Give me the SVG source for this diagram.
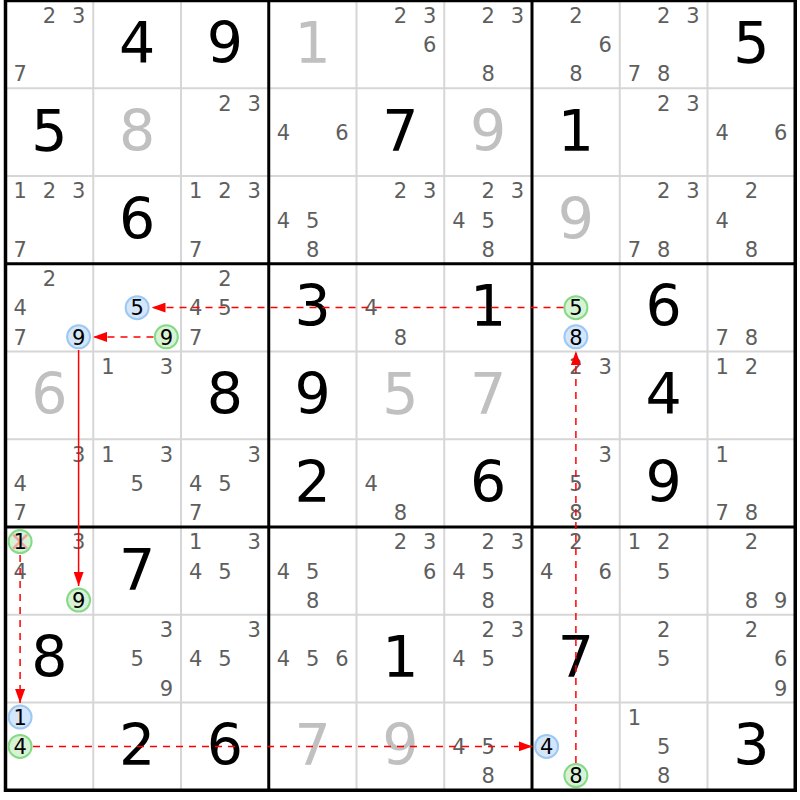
<svg xmlns="http://www.w3.org/2000/svg" width="800" height="800" viewBox="0 0 800 800">
<style>
text{font-family:"DejaVu Sans",Verdana,sans-serif;text-anchor:middle}
.c{font-size:21px;fill:#5e5e5e}
.k{font-size:21px;fill:#000}
.g{font-size:57px;fill:#000}
.s{font-size:57px;fill:#c0c0c0}
.cb{fill:#d3e6fa;stroke:#9cc8f2;stroke-width:2}
.cg{fill:#d6f3d6;stroke:#86d986;stroke-width:2}
.thin{stroke:#d6d6d6;stroke-width:2}
.thick{stroke:#000;stroke-width:3}
.lnk{stroke:#ff0000;stroke-width:1.5;fill:none}
.dash{stroke-dasharray:7 6}
</style>
<defs>
<marker id="ah" markerUnits="userSpaceOnUse" markerWidth="14" markerHeight="10" refX="14" refY="5" orient="auto"><path d="M0,0 L14,5 L0,10 z" fill="#ff0000"/></marker>
</defs>
<rect width="800" height="800" fill="#fff"/>
<g id="grid">
<path class="thin" d="M93.25,0.5V790.25M181,0.5V790.25M356.5,0.5V790.25M444.25,0.5V790.25M619.75,0.5V790.25M707.5,0.5V790.25M5.5,88.25H795.25M5.5,176H795.25M5.5,351.5H795.25M5.5,439.25H795.25M5.5,614.75H795.25M5.5,702.5H795.25"/>
<path class="thick" d="M268.75,0.5V790.25M532,0.5V790.25M5.5,263.75H795.25M5.5,527H795.25"/>
<rect x="5.5" y="0.5" width="789.75" height="789.75" fill="none" stroke="#000" stroke-width="3.5"/>
</g>
<g id="r0c0" transform="translate(5.5,0.5)"><text class="c" x="43.9" y="22.3">2</text><text class="c" x="73.1" y="22.3">3</text><text class="c" x="14.6" y="80.8">7</text></g>
<g id="r0c1" transform="translate(93.25,0.5)"><text class="g" x="43.9" y="62.7">4</text></g>
<g id="r0c2" transform="translate(181,0.5)"><text class="g" x="43.9" y="62.7">9</text></g>
<g id="r0c3" transform="translate(268.75,0.5)"><text class="s" x="43.9" y="62.7">1</text></g>
<g id="r0c4" transform="translate(356.5,0.5)"><text class="c" x="43.9" y="22.3">2</text><text class="c" x="73.1" y="22.3">3</text><text class="c" x="73.1" y="51.5">6</text></g>
<g id="r0c5" transform="translate(444.25,0.5)"><text class="c" x="43.9" y="22.3">2</text><text class="c" x="73.1" y="22.3">3</text><text class="c" x="43.9" y="80.8">8</text></g>
<g id="r0c6" transform="translate(532,0.5)"><text class="c" x="43.9" y="22.3">2</text><text class="c" x="73.1" y="51.5">6</text><text class="c" x="43.9" y="80.8">8</text></g>
<g id="r0c7" transform="translate(619.75,0.5)"><text class="c" x="43.9" y="22.3">2</text><text class="c" x="73.1" y="22.3">3</text><text class="c" x="14.6" y="80.8">7</text><text class="c" x="43.9" y="80.8">8</text></g>
<g id="r0c8" transform="translate(707.5,0.5)"><text class="g" x="43.9" y="62.7">5</text></g>

<g id="r1c0" transform="translate(5.5,88.25)"><text class="g" x="43.9" y="62.7">5</text></g>
<g id="r1c1" transform="translate(93.25,88.25)"><text class="s" x="43.9" y="62.7">8</text></g>
<g id="r1c2" transform="translate(181,88.25)"><text class="c" x="43.9" y="22.3">2</text><text class="c" x="73.1" y="22.3">3</text></g>
<g id="r1c3" transform="translate(268.75,88.25)"><text class="c" x="14.6" y="51.5">4</text><text class="c" x="73.1" y="51.5">6</text></g>
<g id="r1c4" transform="translate(356.5,88.25)"><text class="g" x="43.9" y="62.7">7</text></g>
<g id="r1c5" transform="translate(444.25,88.25)"><text class="s" x="43.9" y="62.7">9</text></g>
<g id="r1c6" transform="translate(532,88.25)"><text class="g" x="43.9" y="62.7">1</text></g>
<g id="r1c7" transform="translate(619.75,88.25)"><text class="c" x="43.9" y="22.3">2</text><text class="c" x="73.1" y="22.3">3</text></g>
<g id="r1c8" transform="translate(707.5,88.25)"><text class="c" x="14.6" y="51.5">4</text><text class="c" x="73.1" y="51.5">6</text></g>

<g id="r2c0" transform="translate(5.5,176)"><text class="c" x="14.6" y="22.3">1</text><text class="c" x="43.9" y="22.3">2</text><text class="c" x="73.1" y="22.3">3</text><text class="c" x="14.6" y="80.8">7</text></g>
<g id="r2c1" transform="translate(93.25,176)"><text class="g" x="43.9" y="62.7">6</text></g>
<g id="r2c2" transform="translate(181,176)"><text class="c" x="14.6" y="22.3">1</text><text class="c" x="43.9" y="22.3">2</text><text class="c" x="73.1" y="22.3">3</text><text class="c" x="14.6" y="80.8">7</text></g>
<g id="r2c3" transform="translate(268.75,176)"><text class="c" x="14.6" y="51.5">4</text><text class="c" x="43.9" y="51.5">5</text><text class="c" x="43.9" y="80.8">8</text></g>
<g id="r2c4" transform="translate(356.5,176)"><text class="c" x="43.9" y="22.3">2</text><text class="c" x="73.1" y="22.3">3</text></g>
<g id="r2c5" transform="translate(444.25,176)"><text class="c" x="43.9" y="22.3">2</text><text class="c" x="73.1" y="22.3">3</text><text class="c" x="14.6" y="51.5">4</text><text class="c" x="43.9" y="51.5">5</text><text class="c" x="43.9" y="80.8">8</text></g>
<g id="r2c6" transform="translate(532,176)"><text class="s" x="43.9" y="62.7">9</text></g>
<g id="r2c7" transform="translate(619.75,176)"><text class="c" x="43.9" y="22.3">2</text><text class="c" x="73.1" y="22.3">3</text><text class="c" x="14.6" y="80.8">7</text><text class="c" x="43.9" y="80.8">8</text></g>
<g id="r2c8" transform="translate(707.5,176)"><text class="c" x="43.9" y="22.3">2</text><text class="c" x="14.6" y="51.5">4</text><text class="c" x="43.9" y="80.8">8</text></g>

<g id="r3c0" transform="translate(5.5,263.75)"><text class="c" x="43.9" y="22.3">2</text><text class="c" x="14.6" y="51.5">4</text><text class="c" x="14.6" y="80.8">7</text><circle class="cb" cx="73.1" cy="73.1" r="11.5"/><text class="k" x="73.1" y="80.8">9</text></g>
<g id="r3c1" transform="translate(93.25,263.75)"><circle class="cb" cx="43.9" cy="43.9" r="11.5"/><text class="k" x="43.9" y="51.5">5</text><circle class="cg" cx="73.1" cy="73.1" r="11.5"/><text class="k" x="73.1" y="80.8">9</text></g>
<g id="r3c2" transform="translate(181,263.75)"><text class="c" x="43.9" y="22.3">2</text><text class="c" x="14.6" y="51.5">4</text><text class="c" x="43.9" y="51.5">5</text><text class="c" x="14.6" y="80.8">7</text></g>
<g id="r3c3" transform="translate(268.75,263.75)"><text class="g" x="43.9" y="62.7">3</text></g>
<g id="r3c4" transform="translate(356.5,263.75)"><text class="c" x="14.6" y="51.5">4</text><text class="c" x="43.9" y="80.8">8</text></g>
<g id="r3c5" transform="translate(444.25,263.75)"><text class="g" x="43.9" y="62.7">1</text></g>
<g id="r3c6" transform="translate(532,263.75)"><circle class="cg" cx="43.9" cy="43.9" r="11.5"/><text class="k" x="43.9" y="51.5">5</text><circle class="cb" cx="43.9" cy="73.1" r="11.5"/><text class="k" x="43.9" y="80.8">8</text></g>
<g id="r3c7" transform="translate(619.75,263.75)"><text class="g" x="43.9" y="62.7">6</text></g>
<g id="r3c8" transform="translate(707.5,263.75)"><text class="c" x="14.6" y="80.8">7</text><text class="c" x="43.9" y="80.8">8</text></g>

<g id="r4c0" transform="translate(5.5,351.5)"><text class="s" x="43.9" y="62.7">6</text></g>
<g id="r4c1" transform="translate(93.25,351.5)"><text class="c" x="14.6" y="22.3">1</text><text class="c" x="73.1" y="22.3">3</text></g>
<g id="r4c2" transform="translate(181,351.5)"><text class="g" x="43.9" y="62.7">8</text></g>
<g id="r4c3" transform="translate(268.75,351.5)"><text class="g" x="43.9" y="62.7">9</text></g>
<g id="r4c4" transform="translate(356.5,351.5)"><text class="s" x="43.9" y="62.7">5</text></g>
<g id="r4c5" transform="translate(444.25,351.5)"><text class="s" x="43.9" y="62.7">7</text></g>
<g id="r4c6" transform="translate(532,351.5)"><text class="c" x="43.9" y="22.3">2</text><text class="c" x="73.1" y="22.3">3</text></g>
<g id="r4c7" transform="translate(619.75,351.5)"><text class="g" x="43.9" y="62.7">4</text></g>
<g id="r4c8" transform="translate(707.5,351.5)"><text class="c" x="14.6" y="22.3">1</text><text class="c" x="43.9" y="22.3">2</text></g>

<g id="r5c0" transform="translate(5.5,439.25)"><text class="c" x="73.1" y="22.3">3</text><text class="c" x="14.6" y="51.5">4</text><text class="c" x="14.6" y="80.8">7</text></g>
<g id="r5c1" transform="translate(93.25,439.25)"><text class="c" x="14.6" y="22.3">1</text><text class="c" x="73.1" y="22.3">3</text><text class="c" x="43.9" y="51.5">5</text></g>
<g id="r5c2" transform="translate(181,439.25)"><text class="c" x="73.1" y="22.3">3</text><text class="c" x="14.6" y="51.5">4</text><text class="c" x="43.9" y="51.5">5</text><text class="c" x="14.6" y="80.8">7</text></g>
<g id="r5c3" transform="translate(268.75,439.25)"><text class="g" x="43.9" y="62.7">2</text></g>
<g id="r5c4" transform="translate(356.5,439.25)"><text class="c" x="14.6" y="51.5">4</text><text class="c" x="43.9" y="80.8">8</text></g>
<g id="r5c5" transform="translate(444.25,439.25)"><text class="g" x="43.9" y="62.7">6</text></g>
<g id="r5c6" transform="translate(532,439.25)"><text class="c" x="73.1" y="22.3">3</text><text class="c" x="43.9" y="51.5">5</text><text class="c" x="43.9" y="80.8">8</text></g>
<g id="r5c7" transform="translate(619.75,439.25)"><text class="g" x="43.9" y="62.7">9</text></g>
<g id="r5c8" transform="translate(707.5,439.25)"><text class="c" x="14.6" y="22.3">1</text><text class="c" x="14.6" y="80.8">7</text><text class="c" x="43.9" y="80.8">8</text></g>

<g id="r6c0" transform="translate(5.5,527)"><circle class="cg" cx="14.6" cy="14.6" r="11.5"/><path d="M7.6,7.6L21.6,21.6M21.6,7.6L7.6,21.6" stroke="#f2a3a3" stroke-width="2.5"/><text class="k" x="14.6" y="22.3">1</text><text class="c" x="73.1" y="22.3">3</text><text class="c" x="14.6" y="51.5">4</text><circle class="cg" cx="73.1" cy="73.1" r="11.5"/><text class="k" x="73.1" y="80.8">9</text></g>
<g id="r6c1" transform="translate(93.25,527)"><text class="g" x="43.9" y="62.7">7</text></g>
<g id="r6c2" transform="translate(181,527)"><text class="c" x="14.6" y="22.3">1</text><text class="c" x="73.1" y="22.3">3</text><text class="c" x="14.6" y="51.5">4</text><text class="c" x="43.9" y="51.5">5</text></g>
<g id="r6c3" transform="translate(268.75,527)"><text class="c" x="14.6" y="51.5">4</text><text class="c" x="43.9" y="51.5">5</text><text class="c" x="43.9" y="80.8">8</text></g>
<g id="r6c4" transform="translate(356.5,527)"><text class="c" x="43.9" y="22.3">2</text><text class="c" x="73.1" y="22.3">3</text><text class="c" x="73.1" y="51.5">6</text></g>
<g id="r6c5" transform="translate(444.25,527)"><text class="c" x="43.9" y="22.3">2</text><text class="c" x="73.1" y="22.3">3</text><text class="c" x="14.6" y="51.5">4</text><text class="c" x="43.9" y="51.5">5</text><text class="c" x="43.9" y="80.8">8</text></g>
<g id="r6c6" transform="translate(532,527)"><text class="c" x="43.9" y="22.3">2</text><text class="c" x="14.6" y="51.5">4</text><text class="c" x="73.1" y="51.5">6</text></g>
<g id="r6c7" transform="translate(619.75,527)"><text class="c" x="14.6" y="22.3">1</text><text class="c" x="43.9" y="22.3">2</text><text class="c" x="43.9" y="51.5">5</text></g>
<g id="r6c8" transform="translate(707.5,527)"><text class="c" x="43.9" y="22.3">2</text><text class="c" x="43.9" y="80.8">8</text><text class="c" x="73.1" y="80.8">9</text></g>

<g id="r7c0" transform="translate(5.5,614.75)"><text class="g" x="43.9" y="62.7">8</text></g>
<g id="r7c1" transform="translate(93.25,614.75)"><text class="c" x="73.1" y="22.3">3</text><text class="c" x="43.9" y="51.5">5</text><text class="c" x="73.1" y="80.8">9</text></g>
<g id="r7c2" transform="translate(181,614.75)"><text class="c" x="73.1" y="22.3">3</text><text class="c" x="14.6" y="51.5">4</text><text class="c" x="43.9" y="51.5">5</text></g>
<g id="r7c3" transform="translate(268.75,614.75)"><text class="c" x="14.6" y="51.5">4</text><text class="c" x="43.9" y="51.5">5</text><text class="c" x="73.1" y="51.5">6</text></g>
<g id="r7c4" transform="translate(356.5,614.75)"><text class="g" x="43.9" y="62.7">1</text></g>
<g id="r7c5" transform="translate(444.25,614.75)"><text class="c" x="43.9" y="22.3">2</text><text class="c" x="73.1" y="22.3">3</text><text class="c" x="14.6" y="51.5">4</text><text class="c" x="43.9" y="51.5">5</text></g>
<g id="r7c6" transform="translate(532,614.75)"><text class="g" x="43.9" y="62.7">7</text></g>
<g id="r7c7" transform="translate(619.75,614.75)"><text class="c" x="43.9" y="22.3">2</text><text class="c" x="43.9" y="51.5">5</text></g>
<g id="r7c8" transform="translate(707.5,614.75)"><text class="c" x="43.9" y="22.3">2</text><text class="c" x="73.1" y="51.5">6</text><text class="c" x="73.1" y="80.8">9</text></g>

<g id="r8c0" transform="translate(5.5,702.5)"><circle class="cb" cx="14.6" cy="14.6" r="11.5"/><text class="k" x="14.6" y="22.3">1</text><circle class="cg" cx="14.6" cy="43.9" r="11.5"/><text class="k" x="14.6" y="51.5">4</text></g>
<g id="r8c1" transform="translate(93.25,702.5)"><text class="g" x="43.9" y="62.7">2</text></g>
<g id="r8c2" transform="translate(181,702.5)"><text class="g" x="43.9" y="62.7">6</text></g>
<g id="r8c3" transform="translate(268.75,702.5)"><text class="s" x="43.9" y="62.7">7</text></g>
<g id="r8c4" transform="translate(356.5,702.5)"><text class="s" x="43.9" y="62.7">9</text></g>
<g id="r8c5" transform="translate(444.25,702.5)"><text class="c" x="14.6" y="51.5">4</text><text class="c" x="43.9" y="51.5">5</text><text class="c" x="43.9" y="80.8">8</text></g>
<g id="r8c6" transform="translate(532,702.5)"><circle class="cb" cx="14.6" cy="43.9" r="11.5"/><text class="k" x="14.6" y="51.5">4</text><circle class="cg" cx="43.9" cy="73.1" r="11.5"/><text class="k" x="43.9" y="80.8">8</text></g>
<g id="r8c7" transform="translate(619.75,702.5)"><text class="c" x="14.6" y="22.3">1</text><text class="c" x="43.9" y="51.5">5</text><text class="c" x="43.9" y="80.8">8</text></g>
<g id="r8c8" transform="translate(707.5,702.5)"><text class="g" x="43.9" y="62.7">3</text></g>

<g id="connectors">
<line class="lnk dash" x1="563.5" y1="307.6" x2="151.5" y2="307.6" marker-end="url(#ah)"/>
<line class="lnk dash" x1="153.5" y1="336.9" x2="93" y2="336.9" marker-end="url(#ah)"/>
<line class="lnk" x1="78.6" y1="350" x2="78.6" y2="586" marker-end="url(#ah)"/>
<line class="lnk dash" x1="20.1" y1="555" x2="20.1" y2="703" marker-end="url(#ah)"/>
<line class="lnk dash" x1="33" y1="746.4" x2="532.5" y2="746.4" marker-end="url(#ah)"/>
<line class="lnk dash" x1="575.9" y1="763" x2="575.9" y2="351" marker-end="url(#ah)"/>
</g>
</svg>
